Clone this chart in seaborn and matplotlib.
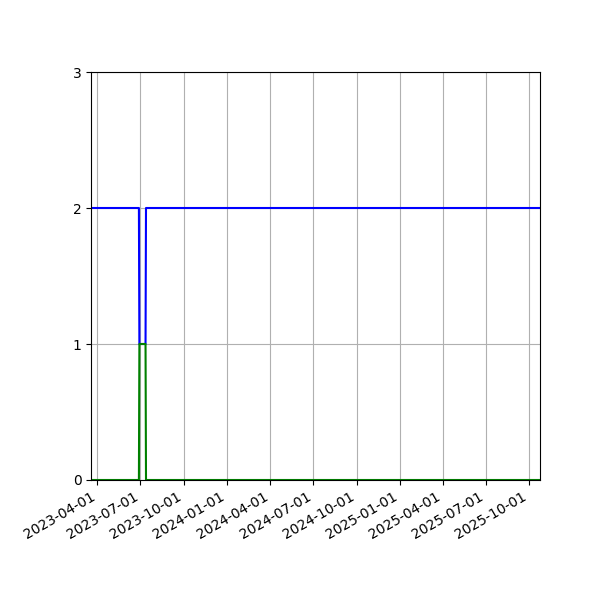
import matplotlib
matplotlib.use("Agg")
import matplotlib.pyplot as plt
import matplotlib.dates as mdates
import seaborn as sns
import pandas as pd

dates = ["2023-03-19", "2023-06-28", "2023-06-29", "2023-07-12", "2023-07-13", "2025-10-24"]
blue_values = [2, 2, 1, 1, 2, 2]
green_values = [0, 0, 1, 1, 0, 0]
y_ticks = [0, 1, 2, 3]
x_ticks = ["2023-04-01", "2023-07-01", "2023-10-01", "2024-01-01", "2024-04-01",
           "2024-07-01", "2024-10-01", "2025-01-01", "2025-04-01", "2025-07-01",
           "2025-10-01"]

df = pd.DataFrame({"date": pd.to_datetime(dates), "blue": blue_values, "green": green_values})

fig, ax = plt.subplots(figsize=(6, 6), dpi=100)
sns.lineplot(data=df, x="date", y="blue", color="blue", ax=ax, linewidth=1.5)
sns.lineplot(data=df, x="date", y="green", color="green", ax=ax, linewidth=1.5)

ax.set_xlim(df["date"].min(), df["date"].max())
ax.set_ylim(0, 3)
ax.set_yticks(y_ticks)
ax.set_xticks(pd.to_datetime(x_ticks))
ax.xaxis.set_major_formatter(mdates.DateFormatter("%Y-%m-%d"))
ax.grid(True)
ax.set_xlabel("")
ax.set_ylabel("")
fig.autofmt_xdate()
fig.subplots_adjust(left=0.152, right=0.9, top=0.88, bottom=0.2)
fig.savefig("out.png", dpi=100)
